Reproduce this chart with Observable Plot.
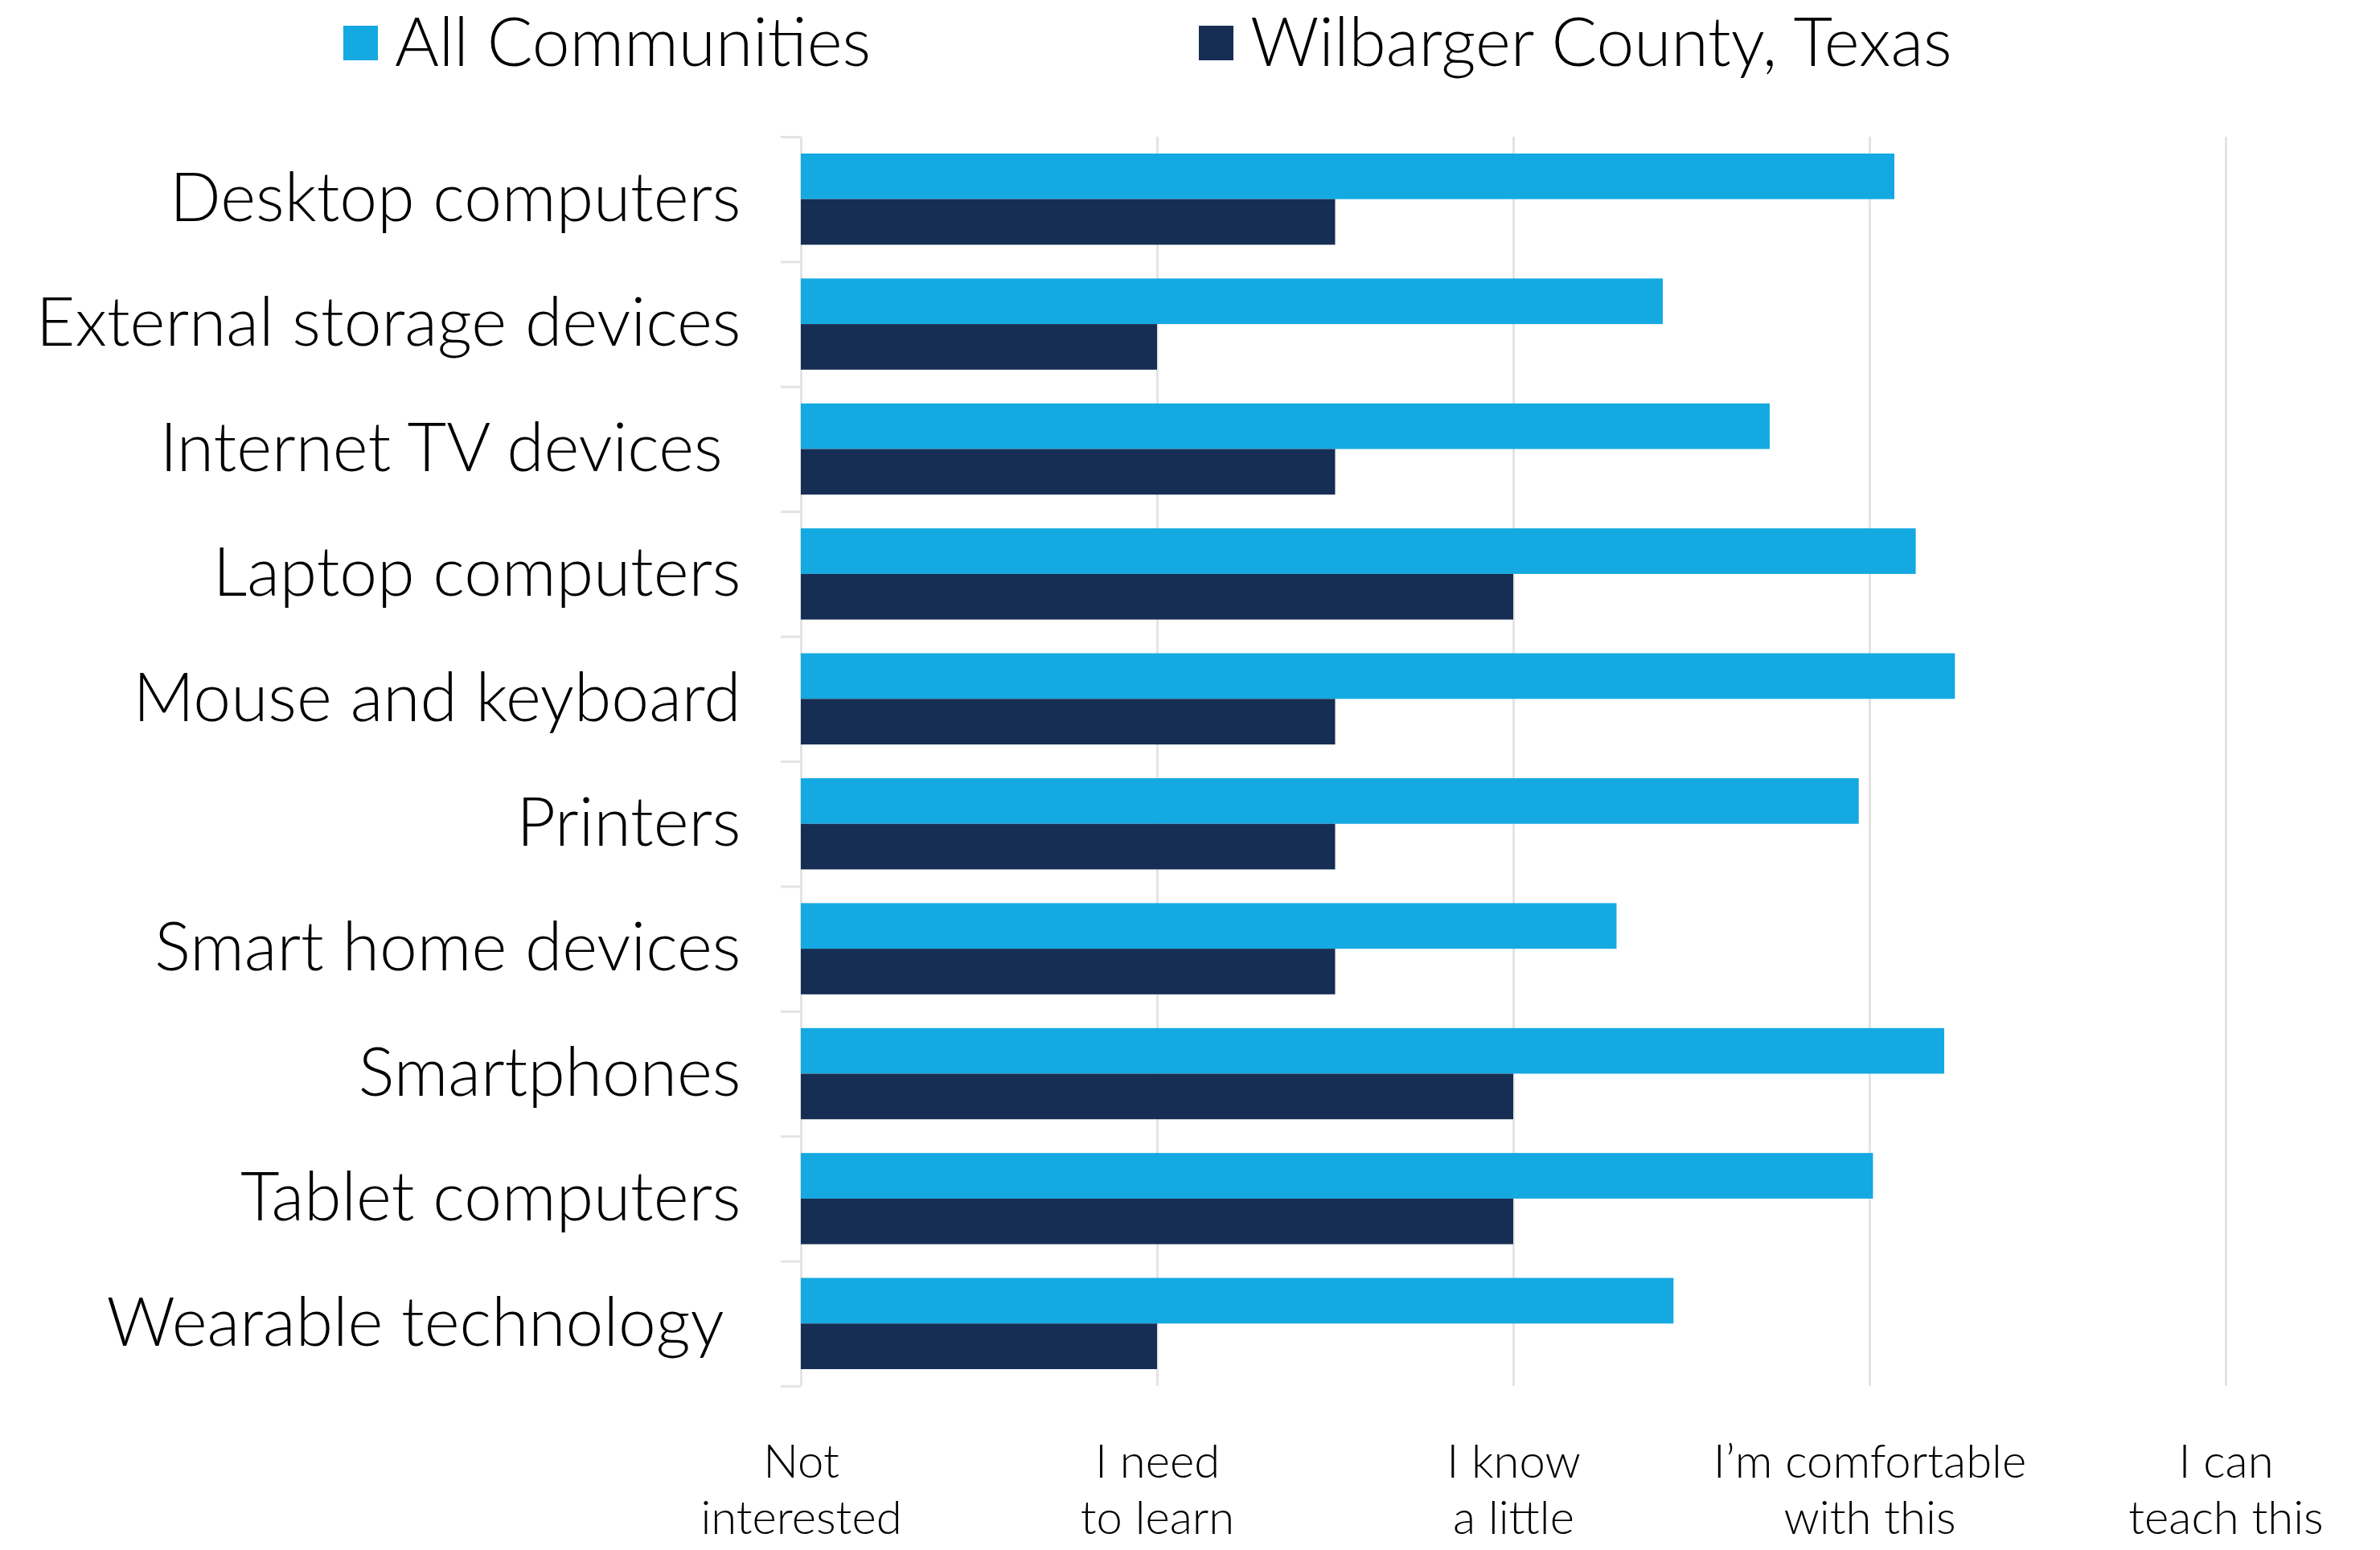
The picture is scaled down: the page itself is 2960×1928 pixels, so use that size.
<!DOCTYPE html>
<html>
<head>
<meta charset="utf-8">
<script src="https://cdn.jsdelivr.net/npm/d3@7"></script>
<script src="https://cdn.jsdelivr.net/npm/@observablehq/plot@0.6"></script>
<style>
  html, body { margin: 0; padding: 0; background: #fff; }
  #legend { position: relative; width: 2960px; height: 110px; font-family: Lato, "Noto Sans", sans-serif; font-weight: 300; font-size: 84px; color: #000; }
  .item { position: absolute; top: 0; height: 98px; display: flex; align-items: center; white-space: nowrap; }
  .sw { width: 43px; height: 43px; margin-right: 21px; margin-top: 8px; }
</style>
</head>
<body>
<div id="legend"></div>
<div id="chart"></div>
<script>
const categories = [
  "Desktop computers",
  "External storage devices",
  "Internet TV devices\u00A0",
  "Laptop computers",
  "Mouse and keyboard",
  "Printers",
  "Smart home devices",
  "Smartphones",
  "Tablet computers",
  "Wearable technology\u00A0"
];
const seriesNames = ["All Communities", "Wilbarger County, Texas"];
const seriesColors = ["#14a9e1", "#162e54"];
const allCommunities = [3.07, 2.42, 2.72, 3.13, 3.24, 2.97, 2.29, 3.21, 3.01, 2.45];
const wilbarger = [1.5, 1.0, 1.5, 2.0, 1.5, 1.5, 1.5, 2.0, 2.0, 1.0];
const xTicks = [0, 1, 2, 3, 4];
const xTickLabels = ["Not\ninterested", "I need\nto learn", "I know\na little", "I\u2019m comfortable\nwith this", "I can\nteach this"];

// legend
const legendX = [427, 1491];
const legend = document.getElementById("legend");
seriesNames.forEach((name, i) => {
  const it = document.createElement("div");
  it.className = "item";
  it.style.left = legendX[i] + "px";
  const sw = document.createElement("span");
  sw.className = "sw";
  sw.style.background = seriesColors[i];
  const t = document.createElement("span");
  t.textContent = name;
  it.appendChild(sw); it.appendChild(t);
  legend.appendChild(it);
});

const data = [];
categories.forEach((c, i) => {
  data.push({category: c, series: seriesNames[0], value: allCommunities[i]});
  data.push({category: c, series: seriesNames[1], value: wilbarger[i]});
});

const H = 1818, mTop = 60, mBottom = 204;
const padInner = 0.27, padOuter = 0.135;
const step = (H - mTop - mBottom) / (categories.length - padInner + 2 * padOuter);
const bw = step * (1 - padInner);
const grid = "#e4e4e4";

const chart = Plot.plot({
  width: 2960,
  height: H,
  marginTop: mTop,
  marginBottom: mBottom,
  marginLeft: 996,
  marginRight: 192,
  style: {fontFamily: "Lato, 'Noto Sans', sans-serif", fontWeight: 300, color: "#000", background: "#fff"},
  x: {domain: [0, 4], axis: null, label: null},
  y: {domain: categories, paddingInner: padInner, paddingOuter: padOuter, round: false, axis: null, label: null},
  color: {domain: seriesNames, range: seriesColors},
  marks: [
    Plot.ruleX(xTicks, {x: d => d, stroke: grid, strokeWidth: 3}),
    Plot.ruleY(categories, {y: d => d, dy: -step / 2, x1: 0, x2: 0, insetLeft: -25, stroke: grid, strokeWidth: 3}),
    Plot.ruleY(categories.slice(-1), {y: d => d, dy: step / 2, x1: 0, x2: 0, insetLeft: -25, stroke: grid, strokeWidth: 3}),
    Plot.barX(data.filter(d => d.series === seriesNames[0]), {x: "value", y: "category", fill: "series", insetBottom: bw / 2}),
    Plot.barX(data.filter(d => d.series === seriesNames[1]), {x: "value", y: "category", fill: "series", insetTop: bw / 2}),
    Plot.axisY({tickSize: 0, tickPadding: 75, fontSize: 84, fill: "#000", label: null}),
    Plot.axisX({ticks: xTicks, tickFormat: i => xTickLabels[i], tickSize: 0, tickPadding: 64, fontSize: 58, lineHeight: 1.2, fill: "#000", label: null})
  ]
});
document.getElementById("chart").appendChild(chart);
</script>
</body>
</html>
